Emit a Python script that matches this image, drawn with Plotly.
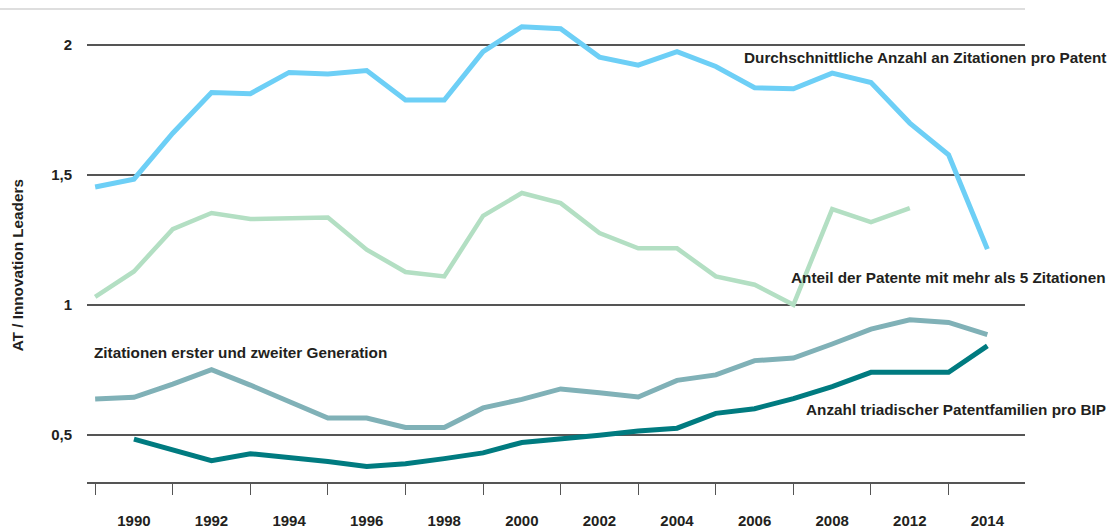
import plotly.graph_objects as go

years = list(range(1989, 2013))

# Durchschnittliche Anzahl an Zitationen pro Patent
avg_citations = [1.453, 1.483, 1.660, 1.817, 1.812, 1.894, 1.888, 1.901,
                 1.788, 1.788, 1.974, 2.070, 2.062, 1.953, 1.922, 1.974,
                 1.917, 1.835, 1.831, 1.891, 1.855, 1.699, 1.577, 1.214]

# Anteil der Patente mit mehr als 5 Zitationen (ends 2010)
share_5plus = [1.030, 1.128, 1.291, 1.353, 1.330, 1.333, 1.336, 1.212,
               1.126, 1.109, 1.342, 1.430, 1.391, 1.276, 1.217, 1.217,
               1.109, 1.077, 1.000, 1.368, 1.318, 1.372, None, None]

# Zitationen erster und zweiter Generation
gen_citations = [0.637, 0.644, 0.695, 0.750, 0.691, 0.630, 0.564, 0.564,
                 0.528, 0.528, 0.603, 0.636, 0.676, 0.661, 0.645, 0.709,
                 0.730, 0.785, 0.795, 0.849, 0.906, 0.942, 0.932, 0.885]

# Anzahl triadischer Patentfamilien pro BIP (starts 1990)
triadic = [None, 0.483, 0.442, 0.400, 0.427, 0.413, 0.397, 0.378,
           0.388, 0.408, 0.430, 0.470, 0.483, 0.498, 0.514, 0.525,
           0.582, 0.600, 0.639, 0.685, 0.740, 0.740, 0.740, 0.842]

tick_years = list(range(1990, 2013, 2))
tick_text = ["1990", "1992", "1994", "1996", "1998", "2000",
             "2002", "2004", "2006", "2008", "2012", "2014"]
minor_years = list(range(1989, 2012, 2))

y_ticks = [0.5, 1, 1.5, 2]
y_text = ["0,5", "1", "1,5", "2"]

FONT = "Liberation Sans, Arial"
TXT = "#231f20"

fig = go.Figure()

series = [
    (avg_citations, "#6dcff6", 5),
    (share_5plus, "#b3dfc3", 4.5),
    (gen_citations, "#80b1b7", 5),
    (triadic, "#007b80", 5),
]
for vals, color, w in series:
    fig.add_trace(go.Scatter(x=years, y=vals, mode="lines",
                             line=dict(color=color, width=w),
                             connectgaps=False, showlegend=False))

labels = [
    ("Durchschnittliche Anzahl an Zitationen pro Patent", 1.0885, 1.95, "right"),
    ("Anteil der Patente mit mehr als 5 Zitationen", 1.0885, 1.104, "right"),
    ("Zitationen erster und zweiter Generation", 0.005, 0.815, "left"),
    ("Anzahl triadischer Patentfamilien pro BIP", 1.0885, 0.596, "right"),
]
for text, x, y, anchor in labels:
    fig.add_annotation(text="<b>%s</b>" % text, xref="paper", yref="y",
                       x=x, y=y, xanchor=anchor, yanchor="middle",
                       showarrow=False,
                       font=dict(family=FONT, size=15.3, color=TXT))

# y axis title, sits a little below the plot centre in the original
fig.add_annotation(text="<b>AT / Innovation Leaders</b>", textangle=-90,
                   xref="paper", yref="y", x=-0.074, y=1.15,
                   xanchor="center", yanchor="middle", showarrow=False,
                   font=dict(family=FONT, size=15.3, color=TXT))

# thin grey line at the top
fig.add_shape(type="line", xref="paper", yref="paper",
              x0=-0.093, x1=1.0, y0=1, y1=1,
              line=dict(color="#bdbdbd", width=1))

fig.update_layout(
    width=1110, height=530,
    margin=dict(l=87, r=85, t=9, b=48),
    plot_bgcolor="white", paper_bgcolor="white",
    font=dict(family=FONT, size=15, color=TXT),
    xaxis=dict(range=[1988.79, 2012.97], automargin=False,
               tickmode="array", tickvals=tick_years, ticktext=tick_text,
               ticks="", showgrid=False, zeroline=False,
               showline=True, linecolor="#555555", linewidth=1.5,
               ticklabelstandoff=24,
               tickfont=dict(family=FONT, size=15, color=TXT, weight="bold"),
               minor=dict(tickmode="array", tickvals=minor_years,
                          ticks="outside", ticklen=11, tickwidth=1.2,
                          tickcolor="#555555", showgrid=False)),
    yaxis=dict(range=[0.318, 2.138], automargin=False,
               tickmode="array", tickvals=y_ticks, ticktext=y_text,
               showgrid=True, gridcolor="#555555", gridwidth=1.5,
               zeroline=False, showline=False, ticks="",
               ticklabelstandoff=14,
               tickfont=dict(family=FONT, size=15, color=TXT, weight="bold")),
)

# drop the browser's default page margin so the figure sits at (0, 0)
fig.write_html("out.html", config={"displayModeBar": False},
               post_script="document.body.style.margin='0';")
